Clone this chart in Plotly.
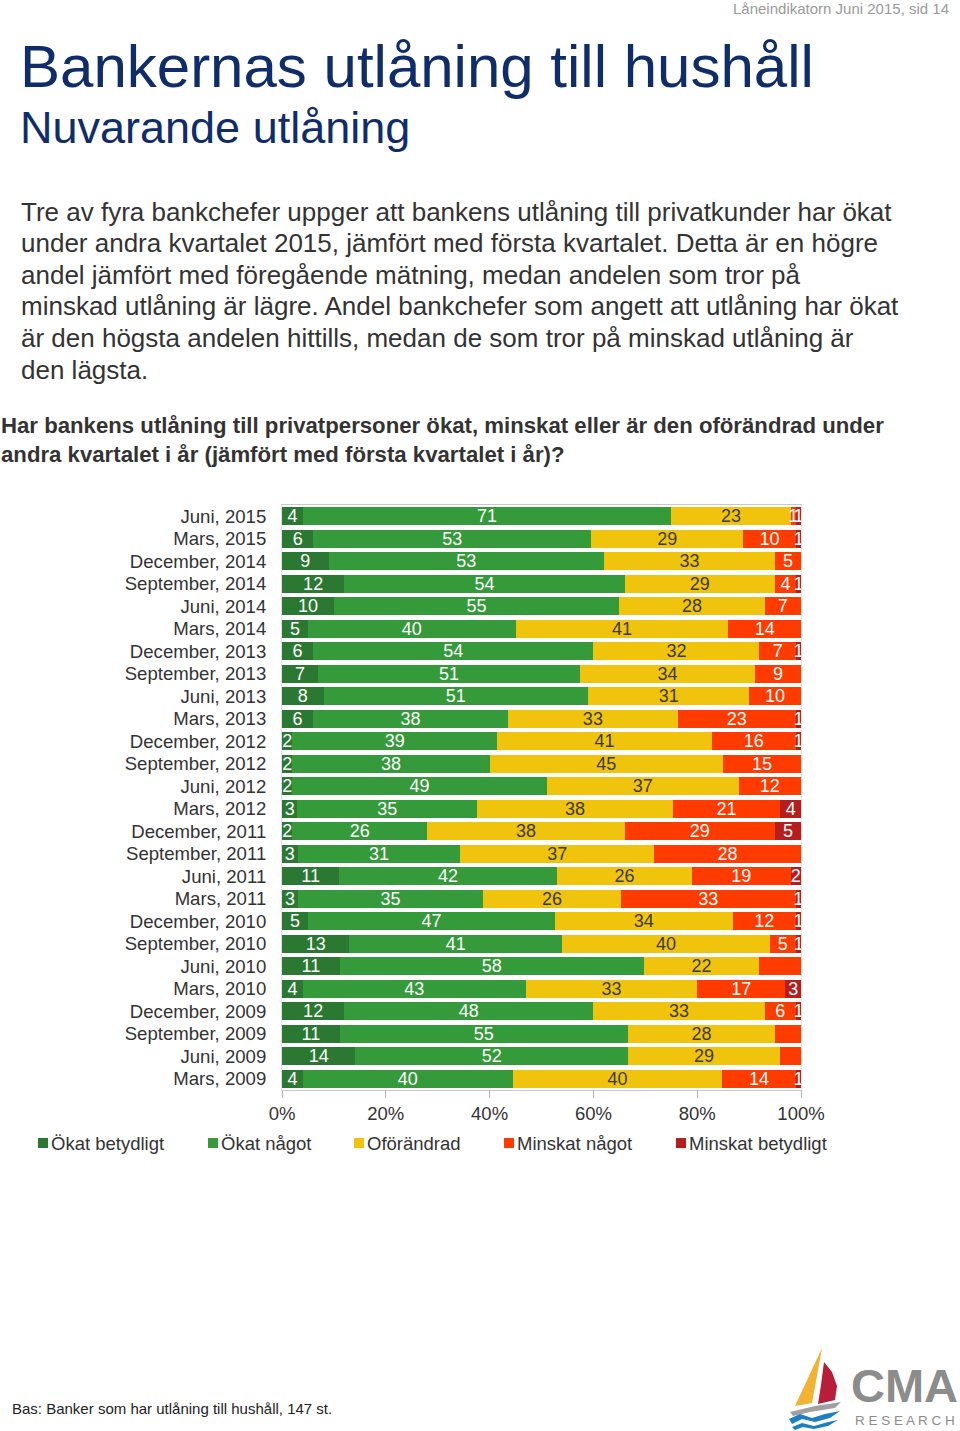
import plotly.graph_objects as go

W, H = 960, 1431

categories = [
    "Juni, 2015", "Mars, 2015", "December, 2014", "September, 2014", "Juni, 2014",
    "Mars, 2014", "December, 2013", "September, 2013", "Juni, 2013", "Mars, 2013",
    "December, 2012", "September, 2012", "Juni, 2012", "Mars, 2012", "December, 2011",
    "September, 2011", "Juni, 2011", "Mars, 2011", "December, 2010", "September, 2010",
    "Juni, 2010", "Mars, 2010", "December, 2009", "September, 2009", "Juni, 2009",
    "Mars, 2009",
]

okat_betydligt = [4, 6, 9, 12, 10, 5, 6, 7, 8, 6, 2, 2, 2, 3, 2, 3, 11, 3, 5, 13, 11, 4, 12, 11, 14, 4]
okat_nagot = [71, 53, 53, 54, 55, 40, 54, 51, 51, 38, 39, 38, 49, 35, 26, 31, 42, 35, 47, 41, 58, 43, 48, 55, 52, 40]
oforandrad = [23, 29, 33, 29, 28, 41, 32, 34, 31, 33, 41, 45, 37, 38, 38, 37, 26, 26, 34, 40, 22, 33, 33, 28, 29, 40]
minskat_nagot = [1, 10, 5, 4, 7, 14, 7, 9, 10, 23, 16, 15, 12, 21, 29, 28, 19, 33, 12, 5, 8, 17, 6, 5, 4, 14]
minskat_betydligt = [1, 1, 0, 1, 0, 0, 1, 0, 0, 1, 1, 0, 0, 4, 5, 0, 2, 1, 1, 1, 0, 3, 1, 0, 0, 1]

series_names = ["Ökat betydligt", "Ökat något", "Oförändrad", "Minskat något", "Minskat betydligt"]
series_values = [okat_betydligt, okat_nagot, oforandrad, minskat_nagot, minskat_betydligt]
series_colors = ["#2a7832", "#349a3a", "#f0c40c", "#ff3b00", "#b81d1d"]
text_colors = ["white", "white", "#3a3a2a", "white", "white"]

x_ticks = [0, 20, 40, 60, 80, 100]
x_ticklabels = ["0%", "20%", "40%", "60%", "80%", "100%"]

FONT = "Liberation Sans, Arial, sans-serif"

def px(x):
    return x / W

def py(y):
    return 1 - y / H

fig = go.Figure()
for name, vals, col, tcol in zip(series_names, series_values, series_colors, text_colors):
    fig.add_trace(go.Bar(
        y=categories, x=vals, name=name, orientation="h",
        marker=dict(color=col, line=dict(width=0)),
        text=[str(v) if v else "" for v in vals],
        texttemplate="%{text}", textposition="inside", insidetextanchor="middle",
        textangle=0, cliponaxis=False, showlegend=False,
        textfont=dict(family=FONT, size=18, color=tcol),
    ))

fig.update_layout(
    template="none",
    width=W, height=H, autosize=False, barmode="stack", barnorm="percent", bargap=0.2,
    paper_bgcolor="white", plot_bgcolor="white",
    margin=dict(l=0, r=0, t=0, b=0, pad=0, autoexpand=False),
    font=dict(family=FONT, color="#333333"),
    uniformtext=dict(minsize=18, mode="show"),
    showlegend=False,
    xaxis=dict(domain=[px(282), px(801)], range=[0, 100], tickvals=x_ticks, ticktext=x_ticklabels,
               automargin=False,
               showgrid=False, zeroline=False, showline=True, linecolor="#c8c8c8", mirror=True,
               ticks="outside", ticklen=7, tickcolor="#b0b0b0",
               tickfont=dict(family=FONT, size=18.5, color="#333333"), fixedrange=True),
    yaxis=dict(domain=[py(1090), py(505)], autorange="reversed", type="category",
               tickmode="array", tickvals=categories, ticktext=categories,
               automargin=False,
               showgrid=False, showline=True, linecolor="#e0e0e0", mirror=True,
               ticks="", ticklabelstandoff=11,
               tickfont=dict(family=FONT, size=18.6, color="#333333"), fixedrange=True),
)

annotations = []
def add_text(x, y, text, size, color="#333333", bold=False, anchor="left", yanchor="middle"):
    if bold:
        text = "<b>" + text + "</b>"
    annotations.append(dict(x=px(x), y=py(y), xref="paper", yref="paper", text=text,
                            showarrow=False, xanchor=anchor, yanchor=yanchor, borderpad=0,
                            font=dict(family=FONT, size=size, color=color)))

add_text(950, 9, "Låneindikatorn Juni 2015, sid 14", 15, color="#9a9a9a", anchor="right")
add_text(19, 67, "Bankernas utlåning till hushåll", 60, color="#0f2d6b")
add_text(19, 127, "Nuvarande utlåning", 45, color="#0f2d6b")

para = [
    "Tre av fyra bankchefer uppger att bankens utlåning till privatkunder har ökat",
    "under andra kvartalet 2015, jämfört med första kvartalet. Detta är en högre",
    "andel jämfört med föregående mätning, medan andelen som tror på",
    "minskad utlåning är lägre. Andel bankchefer som angett att utlåning har ökat",
    "är den högsta andelen hittills, medan de som tror på minskad utlåning är",
    "den lägsta.",
]
for i, line in enumerate(para):
    add_text(20, 212 + i * 31.5, line, 26, color="#333333")

question = [
    "Har bankens utlåning till privatpersoner ökat, minskat eller är den oförändrad under",
    "andra kvartalet i år (jämfört med första kvartalet i år)?",
]
for i, line in enumerate(question):
    add_text(0, 425 + i * 30, line, 22.2, color="#333333", bold=True)

# manual legend
legend_x = [38, 208, 354, 504, 676]
shapes = []
for name, col, lx in zip(series_names, series_colors, legend_x):
    shapes.append(dict(type="rect", xref="paper", yref="paper",
                       x0=px(lx), x1=px(lx + 10), y0=py(1148), y1=py(1138),
                       fillcolor=col, line=dict(width=0)))
    add_text(lx + 12, 1143, name, 18.5, color="#333333")

add_text(11, 1408, "Bas: Banker som har utlåning till hushåll, 147 st.", 15, color="#222222")

# Logo text
add_text(904, 1385, "<b>CMA</b>", 47, color="#8c8c8c", anchor="center")
add_text(905, 1420, "R E S E A R C H", 13.5, color="#8c8c8c", anchor="center")

fig.update_layout(annotations=annotations)

def path(points, close=True):
    s = "M " + " L ".join(f"{px(x):.5f},{py(y):.5f}" for x, y in points)
    return s + (" Z" if close else "")

# yellow sail
shapes.append(dict(type="path", xref="paper", yref="paper",
                   path=path([(822, 1348), (795, 1406), (812, 1403), (818, 1370)]),
                   fillcolor="#f2b233", line=dict(width=0)))
# red sail
shapes.append(dict(type="path", xref="paper", yref="paper",
                   path=path([(824, 1362), (832, 1372), (837, 1386), (835, 1400), (818, 1404), (821, 1385)]),
                   fillcolor="#b81d3a", line=dict(width=0)))
# grey hull
shapes.append(dict(type="path", xref="paper", yref="paper",
                   path=path([(790, 1412), (815, 1406), (841, 1402), (835, 1408), (810, 1412), (793, 1416)]),
                   fillcolor="#a0a0a0", line=dict(width=0)))
# blue waves
shapes.append(dict(type="path", xref="paper", yref="paper",
                   path=path([(789, 1419), (800, 1414), (812, 1418), (825, 1414), (840, 1411), (830, 1418),
                              (815, 1422), (802, 1419), (792, 1424)]),
                   fillcolor="#1e7fc0", line=dict(width=0)))
shapes.append(dict(type="path", xref="paper", yref="paper",
                   path=path([(792, 1427), (802, 1423), (814, 1426), (828, 1422), (838, 1420), (828, 1426),
                              (814, 1429), (803, 1427), (795, 1430)]),
                   fillcolor="#1e7fc0", line=dict(width=0)))
fig.update_layout(shapes=shapes)

fig.write_html("out.html", config={"responsive": False, "displayModeBar": False},
               post_script="document.body.style.margin='0';document.body.style.overflow='hidden';")
